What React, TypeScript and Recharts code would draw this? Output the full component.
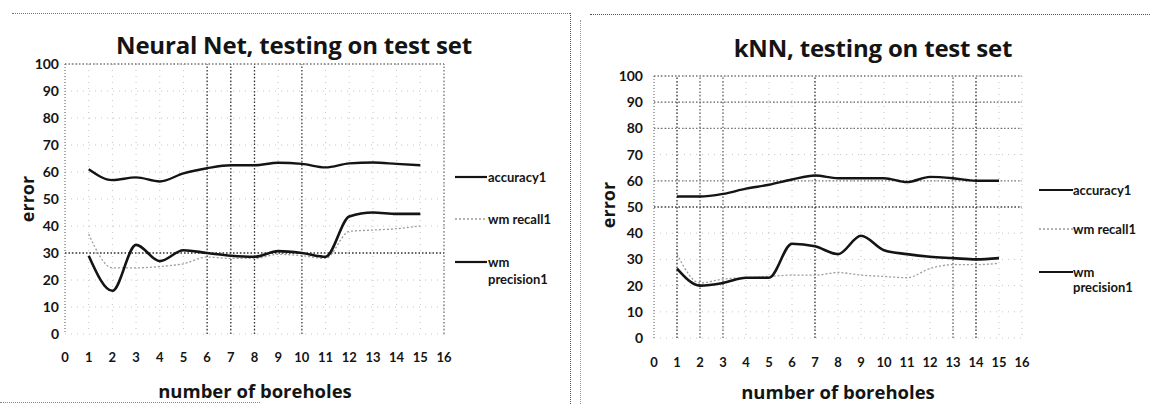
import { LineChart, Line, XAxis, YAxis, CartesianGrid, ReferenceLine } from 'recharts';

// number of boreholes used for training
const boreholes = [1, 2, 3, 4, 5, 6, 7, 8, 9, 10, 11, 12, 13, 14, 15];

// Neural Net, testing on test set
const nnAccuracy = [61, 57, 58, 56.5, 59.5, 61.4, 62.5, 62.5, 63.4, 63, 61.7, 63.2, 63.5, 63, 62.5];
const nnRecall = [37, 24.5, 24.5, 25, 26, 28.5, 28, 28, 29.5, 29, 28, 38, 38.5, 39, 40];
const nnPrecision = [29, 16, 33, 27, 31, 30, 29, 28.6, 30.7, 30, 28.6, 43.5, 45, 44.5, 44.5];

// kNN, testing on test set
const knnAccuracy = [54, 54, 55, 57, 58.5, 60.5, 62, 61, 61, 61, 59.5, 61.5, 61, 60, 60];
const knnRecall = [32, 21, 22.5, 23, 23.5, 24, 24, 25, 24, 23.5, 23, 26.5, 28, 28, 28.5];
const knnPrecision = [26.5, 20, 21, 23, 23, 36, 35, 32, 39, 33.5, 32, 31, 30.5, 30, 30.5];

const xTicks = [0, 1, 2, 3, 4, 5, 6, 7, 8, 9, 10, 11, 12, 13, 14, 15, 16];
const yTicks = [0, 10, 20, 30, 40, 50, 60, 70, 80, 90, 100];
const seriesNames = ['accuracy1', 'wm recall1', 'wm precision1'];

const nnRows = boreholes.map((b, i) => ({
  b,
  accuracy1: nnAccuracy[i],
  recall1: nnRecall[i],
  precision1: nnPrecision[i],
}));

const knnRows = boreholes.map((b, i) => ({
  b,
  accuracy1: knnAccuracy[i],
  recall1: knnRecall[i],
  precision1: knnPrecision[i],
}));

const font = 'Lato, "Open Sans", sans-serif';
const wideFont = '"Open Sans", Lato, sans-serif';
const ink = '#141414';

type GridRef = { x?: number; y?: number; c: string };

type PanelProps = {
  left: number;
  title: string;
  titleX: number;
  titleY: number;
  rows: typeof nnRows;
  margin: { top: number; right: number; bottom: number; left: number };
  xAxisHeight: number;
  yTickMargin: number;
  xTickMargin: number;
  axisTitleX: number;
  axisTitleY: number;
  errorX: number;
  errorY: number;
  legendLineX: number;
  legendLineW: number;
  legendTextX: number;
  legendY: number[];
  refs: GridRef[];
};

function Panel(p: PanelProps) {
  const txt = { position: 'absolute' as const, fontFamily: font, fontWeight: 700, color: ink, whiteSpace: 'nowrap' as const };
  return (
    <div style={{ position: 'absolute', left: p.left, top: 0, width: 575, height: 404 }}>
      <div
        style={{
          ...txt,
          fontFamily: wideFont,
          left: p.titleX - 250,
          width: 500,
          textAlign: 'center',
          top: p.titleY - 15,
          fontSize: 24,
          lineHeight: '30px',
          letterSpacing: '-0.2px',
        }}
      >
        {p.title}
      </div>
      <LineChart width={575} height={404} data={p.rows} margin={p.margin}>
        <CartesianGrid stroke="#c4c4c4" strokeDasharray="1 5" />
        {p.refs.map((r, i) =>
          r.x !== undefined ? (
            <ReferenceLine key={i} x={r.x} stroke={r.c} strokeWidth={1.3} strokeDasharray="1.5 2" />
          ) : (
            <ReferenceLine key={i} y={r.y} stroke={r.c} strokeWidth={1.3} strokeDasharray="1.5 2" />
          )
        )}
        <XAxis
          dataKey="b"
          type="number"
          domain={[0, 16]}
          ticks={xTicks}
          interval={0}
          height={p.xAxisHeight}
          axisLine={false}
          tickLine={false}
          tickSize={0}
          tickMargin={p.xTickMargin}
          tick={{ fontSize: 13, fontWeight: 700, fill: ink, fontFamily: font }}
        />
        <YAxis
          type="number"
          domain={[0, 100]}
          ticks={yTicks}
          interval={0}
          width={60}
          axisLine={{ stroke: '#666', strokeDasharray: '1 2' }}
          tickLine={false}
          tickSize={0}
          tickMargin={p.yTickMargin}
          tick={{ fontSize: 14, fontWeight: 700, fill: ink, fontFamily: font }}
        />
        <Line type="monotone" dataKey="recall1" name={seriesNames[1]} stroke="#9c9c9c" strokeWidth={1.3} strokeDasharray="2 2" dot={false} isAnimationActive={false} />
        <Line type="monotone" dataKey="accuracy1" name={seriesNames[0]} stroke={ink} strokeWidth={2.4} dot={false} isAnimationActive={false} />
        <Line type="monotone" dataKey="precision1" name={seriesNames[2]} stroke={ink} strokeWidth={2.6} dot={false} isAnimationActive={false} />
      </LineChart>
      <div
        style={{
          ...txt,
          fontFamily: wideFont,
          left: p.axisTitleX - 150,
          width: 300,
          textAlign: 'center',
          top: p.axisTitleY - 10,
          fontSize: 18.5,
          lineHeight: '20px',
        }}
      >
        number of boreholes
      </div>
      <div
        style={{
          ...txt,
          fontFamily: wideFont,
          left: p.errorX - 40,
          width: 80,
          textAlign: 'center',
          top: p.errorY - 11,
          fontSize: 18,
          lineHeight: '22px',
          transform: 'rotate(-90deg)',
        }}
      >
        error
      </div>
      {/* legend */}
      {[0, 1].map((k) => (
        <div key={k}>
          <svg style={{ position: 'absolute', left: p.legendLineX, top: p.legendY[k] - 3 }} width={p.legendLineW} height={6}>
            <line
              x1={0}
              y1={3}
              x2={p.legendLineW}
              y2={3}
              stroke={k === 1 ? '#9c9c9c' : ink}
              strokeWidth={k === 1 ? 1.3 : 2.2}
              strokeDasharray={k === 1 ? '2 2' : undefined}
            />
          </svg>
          <div style={{ ...txt, left: p.legendTextX, top: p.legendY[k] - 9, fontSize: 13, lineHeight: '18px' }}>{seriesNames[k]}</div>
        </div>
      ))}
      <svg style={{ position: 'absolute', left: p.legendLineX, top: p.legendY[2] - 3 }} width={p.legendLineW} height={6}>
        <line x1={0} y1={3} x2={p.legendLineW} y2={3} stroke={ink} strokeWidth={2.2} />
      </svg>
      <div style={{ ...txt, left: p.legendTextX, top: p.legendY[2] - 9, fontSize: 13, lineHeight: '18px' }}>wm</div>
      <div style={{ ...txt, left: p.legendTextX, top: p.legendY[3] - 9, fontSize: 13, lineHeight: '18px' }}>precision1</div>
    </div>
  );
}

export default function App() {
  return (
    <div style={{ position: 'absolute', left: 0, top: 0, width: 1150, height: 404, background: '#fff', overflow: 'hidden' }}>
      {/* scanned page frames */}
      <div style={{ position: 'absolute', left: 12, top: 13, width: 558, height: 0, borderTop: '1px dotted #777' }} />
      <div style={{ position: 'absolute', left: 570, top: 13, width: 0, height: 391, borderLeft: '1.5px dotted #555' }} />
      <div style={{ position: 'absolute', left: 0, top: 402, width: 260, height: 0, borderTop: '1px dotted #888' }} />
      <div style={{ position: 'absolute', left: 580, top: 20, width: 0, height: 384, borderLeft: '1px dotted #999' }} />
      <div style={{ position: 'absolute', left: 590, top: 14, width: 560, height: 0, borderTop: '1.5px dotted #555' }} />
      <Panel
        left={0}
        title="Neural Net, testing on test set"
        titleX={294}
        titleY={45}
        rows={nnRows}
        margin={{ top: 64, right: 131, bottom: 0, left: 5 }}
        xAxisHeight={70}
        yTickMargin={6}
        xTickMargin={19}
        axisTitleX={255}
        axisTitleY={391}
        errorX={27}
        errorY={199}
        legendLineX={455}
        legendLineW={32}
        legendTextX={488}
        legendY={[177, 219, 262, 279]}
        refs={[
          { y: 100, c: '#777' },
          { y: 30, c: '#333' },
          { x: 6, c: '#333' },
          { x: 7, c: '#333' },
          { x: 8, c: '#333' },
          { x: 10, c: '#444' },
          { x: 16, c: '#777' },
        ]}
      />
      <Panel
        left={575}
        title="kNN, testing on test set"
        titleX={298}
        titleY={48}
        rows={knnRows}
        margin={{ top: 76, right: 128, bottom: 0, left: 19 }}
        xAxisHeight={66}
        yTickMargin={11}
        xTickMargin={20}
        axisTitleX={263}
        axisTitleY={392}
        errorX={33}
        errorY={205}
        legendLineX={464}
        legendLineW={34}
        legendTextX={498}
        legendY={[190, 229, 272, 287]}
        refs={[
          { y: 100, c: '#777' },
          { y: 90, c: '#666' },
          { y: 80, c: '#777' },
          { y: 60, c: '#777' },
          { y: 50, c: '#444' },
          { x: 1, c: '#333' },
          { x: 2, c: '#666' },
          { x: 3, c: '#666' },
          { x: 7, c: '#333' },
          { x: 13, c: '#666' },
          { x: 14, c: '#333' },
        ]}
      />
    </div>
  );
}
